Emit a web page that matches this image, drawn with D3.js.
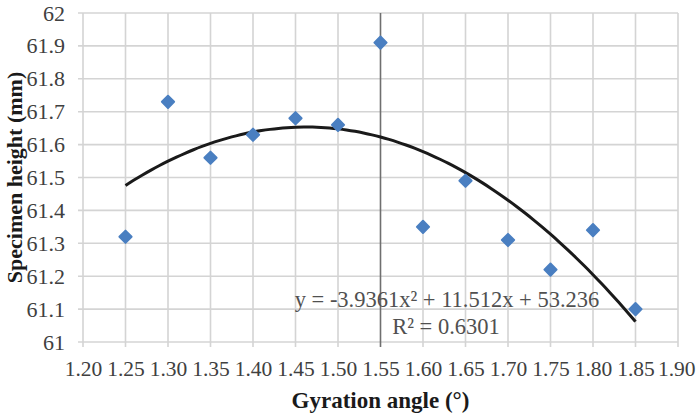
<!DOCTYPE html>
<meta charset="utf-8">
<script src="https://d3js.org/d3.v7.min.js"></script>
<style>
  body { margin: 0; background: #fff; }
  text { font-family: "Liberation Serif", "Times New Roman", serif; }
</style>
<div id="chart"></div>
<script>

// data
var angles  = [1.25, 1.30, 1.35, 1.40, 1.45, 1.50, 1.55, 1.60, 1.65, 1.70, 1.75, 1.80, 1.85];
var heights = [61.32, 61.73, 61.56, 61.63, 61.68, 61.66, 61.91, 61.35, 61.49, 61.31, 61.22, 61.34, 61.10];
var xTicks = [1.20, 1.25, 1.30, 1.35, 1.40, 1.45, 1.50, 1.55, 1.60, 1.65, 1.70, 1.75, 1.80, 1.85, 1.90];
var yTicks = [61, 61.1, 61.2, 61.3, 61.4, 61.5, 61.6, 61.7, 61.8, 61.9, 62];
// polynomial trendline coefficients (a, b, c) shown on chart
var trendCoef = [-3.9361, 11.512, 53.236];
var trendRange = [1.25, 1.85];

var W = 696, H = 420;
var margin = {top: 13, right: 18, bottom: 78, left: 83},
    width = W - margin.left - margin.right,
    height = H - margin.top - margin.bottom;

var svg = d3.select("#chart").append("svg")
    .attr("width", W)
    .attr("height", H);

var g = svg.append("g")
    .attr("transform", "translate(" + margin.left + "," + margin.top + ")");

var x = d3.scaleLinear().domain([1.20, 1.90]).range([0, width]);
var y = d3.scaleLinear().domain([61, 62]).range([height, 0]);

// gridlines
g.selectAll(".hgrid")
  .data(yTicks)
  .enter().append("line")
    .attr("x1", -5).attr("x2", width)
    .attr("y1", function(d) { return y(d); })
    .attr("y2", function(d) { return y(d); })
    .attr("stroke", "#d4d4d4")
    .attr("stroke-width", 1.6);

g.selectAll(".vgrid")
  .data(xTicks)
  .enter().append("line")
    .attr("x1", function(d) { return x(d); })
    .attr("x2", function(d) { return x(d); })
    .attr("y1", 0).attr("y2", height + 5)
    .attr("stroke", function(d) { return Math.abs(d - 1.55) < 1e-6 ? "#6f6f6f" : "#d4d4d4"; })
    .attr("stroke-width", 1.6);

// axes (text only, lines drawn as grid)
var xAxis = g.append("g")
  .attr("transform", "translate(0," + height + ")")
  .call(d3.axisBottom(x).tickValues(xTicks).tickFormat(d3.format(".2f")).tickSize(0).tickPadding(19));
xAxis.select(".domain").remove();
xAxis.selectAll("text")
  .attr("font-size", 21.5)
  .attr("fill", "#404040")
  .style("font-family", "Liberation Serif, serif");
// last label sits against the right edge
xAxis.selectAll("text").filter(function(d) { return d === 1.90; })
  .attr("text-anchor", "end")
  .attr("x", margin.right - 1);

var yAxis = g.append("g")
  .call(d3.axisLeft(y).tickValues(yTicks).tickFormat(function(d) { return d3.format("")(+d.toFixed(1)); }).tickSize(0).tickPadding(18));
yAxis.select(".domain").remove();
yAxis.selectAll("text")
  .attr("font-size", 22)
  .attr("fill", "#404040")
  .style("font-family", "Liberation Serif, serif");

// trendline
var trend = function(v) { return trendCoef[0] * v * v + trendCoef[1] * v + trendCoef[2]; };
var trendPts = d3.range(0, 61).map(function(i) {
  var v = trendRange[0] + (trendRange[1] - trendRange[0]) * i / 60;
  return [v, trend(v)];
});
g.append("path")
  .datum(trendPts)
  .attr("fill", "none")
  .attr("stroke", "#1a1a1a")
  .attr("stroke-width", 3)
  .attr("d", d3.line().x(function(d) { return x(d[0]); }).y(function(d) { return y(d[1]); }).curve(d3.curveMonotoneX));

// markers
g.selectAll(".pt")
  .data(angles)
  .enter().append("path")
    .attr("transform", function(d, i) { return "translate(" + x(d) + "," + y(heights[i]) + ")"; })
    .attr("d", d3.symbol().type(d3.symbolDiamond2).size(95))
    .attr("fill", "#4a7fc1")
    .attr("stroke", "#4a7fc1")
    .attr("stroke-width", 2)
    .attr("stroke-linejoin", "round");

// equation label
var eq = g.append("text")
  .attr("text-anchor", "middle")
  .attr("font-size", 22.5)
  .attr("fill", "#505050");
eq.append("tspan").attr("x", 364).attr("y", 294).text("y = -3.9361x² + 11.512x + 53.236");
eq.append("tspan").attr("x", 363).attr("y", 321).text("R² = 0.6301");

// axis titles
svg.append("text")
  .attr("x", margin.left + width / 2)
  .attr("y", 408)
  .attr("text-anchor", "middle")
  .attr("font-size", 23)
  .attr("font-weight", "bold")
  .attr("fill", "#1a1a1a")
  .text("Gyration angle (°)");

svg.append("text")
  .attr("transform", "translate(22," + (margin.top + height / 2) + ") rotate(-90)")
  .attr("text-anchor", "middle")
  .attr("font-size", 22)
  .attr("font-weight", "bold")
  .attr("fill", "#1a1a1a")
  .text("Specimen height (mm)");

</script>
